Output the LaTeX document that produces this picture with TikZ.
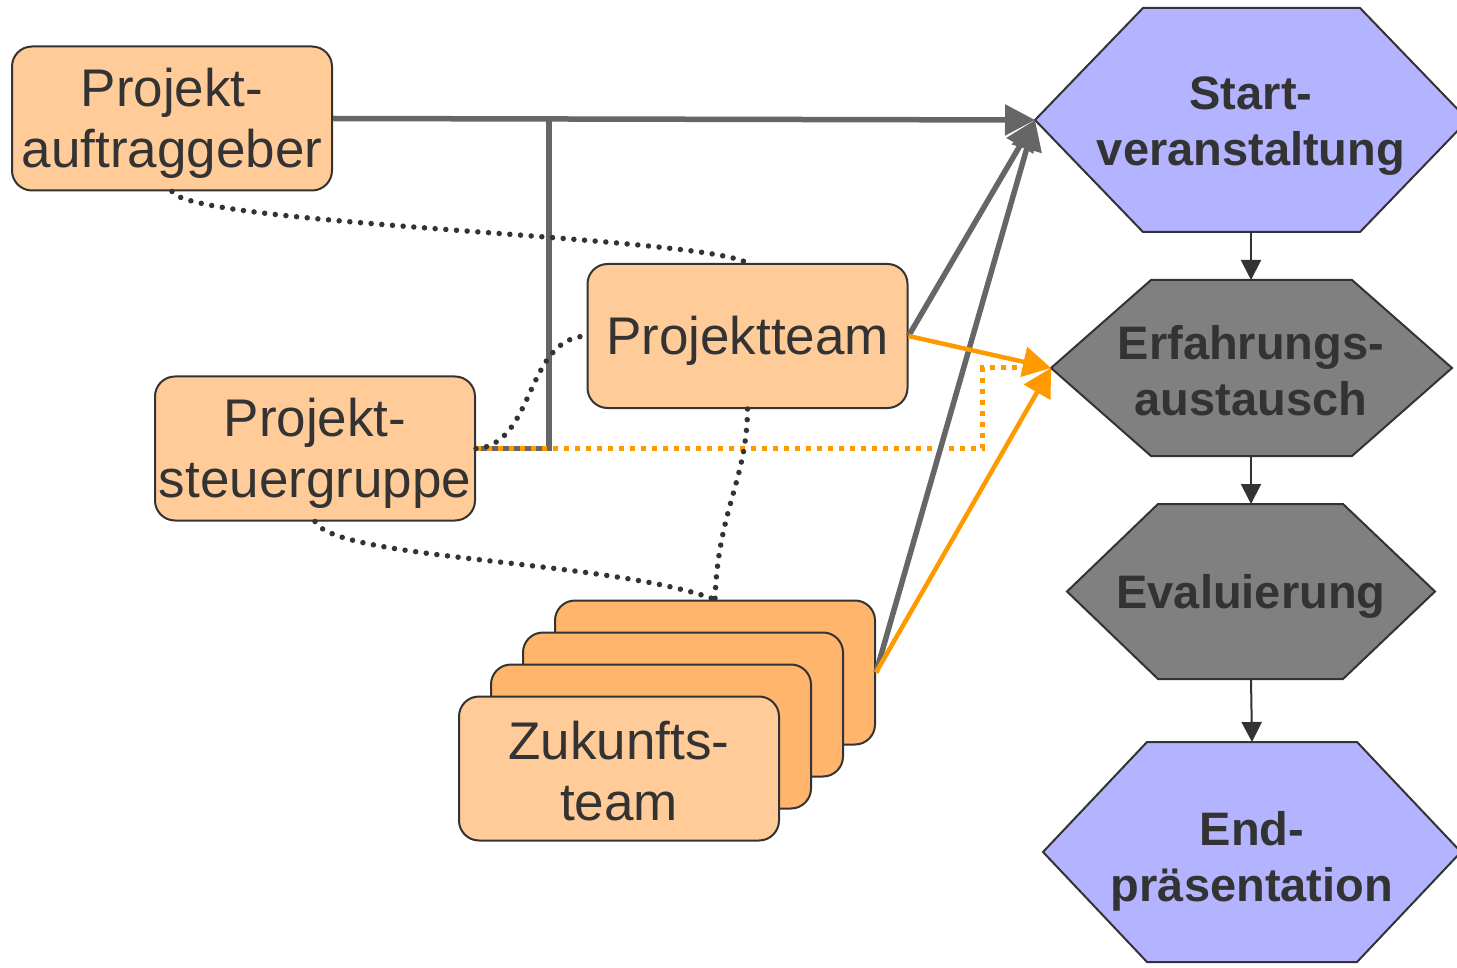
\documentclass[tikz,border=0pt]{standalone}
\usepackage{fontspec}
\setmainfont{Liberation Sans}
\usetikzlibrary{arrows.meta}
\definecolor{txt}{HTML}{333333}
\definecolor{boxfill}{HTML}{FFCC99}
\definecolor{backfill}{HTML}{FFB56B}
\definecolor{hexblue}{HTML}{B3B3FF}
\definecolor{hexgray}{HTML}{808080}
\definecolor{lgray}{HTML}{666666}
\definecolor{orng}{HTML}{FF9900}
\tikzset{
  roleb/.style={draw=txt, line width=2pt, fill=boxfill, rounded corners=20pt,
    minimum width=320pt, minimum height=144pt, inner sep=0pt},
  rtext/.style={align=center, text=txt, inner sep=0pt, yshift=-5pt,
    font=\fontsize{53}{61}\selectfont},
  backbox/.style={roleb, fill=backfill},
  hexshape/.style={draw=txt, line width=2pt},
  hextext/.style={text=txt, font=\fontsize{47}{56}\selectfont\bfseries, align=center, inner sep=0pt},
  gline/.style={draw=lgray, line width=5.5pt},
  garrow/.style={gline, -{Triangle[length=30pt,width=30pt]}},
  oarrow/.style={draw=orng, line width=4.5pt, -{Triangle[length=28pt,width=30pt]}},
  odots/.style={draw=orng, line width=5pt, dash pattern=on 5pt off 6pt},
  kdots/.style={draw=txt, line width=5.5pt, line cap=round, dash pattern=on 0pt off 10.7pt},
  flow/.style={draw=txt, line width=2pt, -{Triangle[length=20pt,width=20pt]}}
}
\begin{document}
\begin{tikzpicture}[x=1pt,y=-1pt]
\useasboundingbox (0,0) rectangle (1457,968);
\clip (0,0) rectangle (1457,968);

% hexagons
\coordinate (startW) at (1035,120);
\coordinate (startS) at (1251,232);
\draw[hexshape, fill=hexblue] (startW) -- (1143,8) -- (1360,8) -- (1468,120) -- (1360,232) -- (1143,232) -- cycle;
\node[hextext] (start) at (1251,126) {Start-\\veranstaltung};

\coordinate (erfW) at (1051,368);
\coordinate (erfN) at (1251,280);
\coordinate (erfS) at (1251,456);
\draw[hexshape, fill=hexgray] (erfW) -- (1151,280) -- (1352,280) -- (1452,368) -- (1352,456) -- (1151,456) -- cycle;
\node[hextext] (erf) at (1251,371) {Erfahrungs-\\austausch};

\coordinate (evalN) at (1251,504);
\coordinate (evalS) at (1251,679);
\draw[hexshape, fill=hexgray] (1067,591.5) -- (1158,504) -- (1343,504) -- (1435,591.5) -- (1343,679) -- (1158,679) -- cycle;
\node[hextext] (eval) at (1251,596) {Evaluierung};

\coordinate (endN) at (1252,742);
\draw[hexshape, fill=hexblue] (1043,852) -- (1147,742) -- (1357,742) -- (1461,852) -- (1357,962) -- (1147,962) -- cycle;
\node[hextext] (endp) at (1252,861) {End-\\präsentation};

\draw[flow] (startS) -- (erfN);
\draw[flow] (erfS) -- (evalN);
\draw[flow] (evalS) -- (endN);

% boxes
\node[roleb, label={[rtext]center:Projekt-\\auftraggeber}] (auft) at (172,118.5) {};
\node[roleb, label={[rtext]center:Projekt-\\steuergruppe}] (steuer) at (315,448.5) {};
\node[roleb, label={[rtext]center:Projektteam}] (pt) at (747.5,336) {};
\node[backbox] (zt3) at (715,672.5) {};
\node[backbox] (zt2) at (683,704.5) {};
\node[backbox] (zt1) at (651,736.5) {};
\node[roleb, label={[rtext, yshift=2pt]center:Zukunfts-\\team}] (zt) at (619,768.5) {};

% connectors
\coordinate (junc) at (549,119.6);
\coordinate (obend) at (982,368);
\draw[gline] (steuer.east) -| (junc);
\draw[odots, shorten >=28pt] (steuer.east) -| (obend) -- (erfW);
\draw[garrow] (auft.east) -- (startW);
\draw[garrow] (pt.east) -- (startW);
\draw[garrow] (zt3.east) -- (startW);
\draw[oarrow] (pt.east) -- (erfW);
\draw[oarrow] (zt3.east) -- (erfW);

\draw[kdots] (auft.south) .. controls (190,225) and (700,236) .. (pt.north);
\draw[kdots] (steuer.east) .. controls (535,445) and (525,338) .. (pt.west);
\draw[kdots] (steuer.south) .. controls (335,560) and (610,560) .. (zt3.north);
\draw[kdots] (pt.south) .. controls (747,480) and (718,510) .. (zt3.north);
\end{tikzpicture}
\end{document}
